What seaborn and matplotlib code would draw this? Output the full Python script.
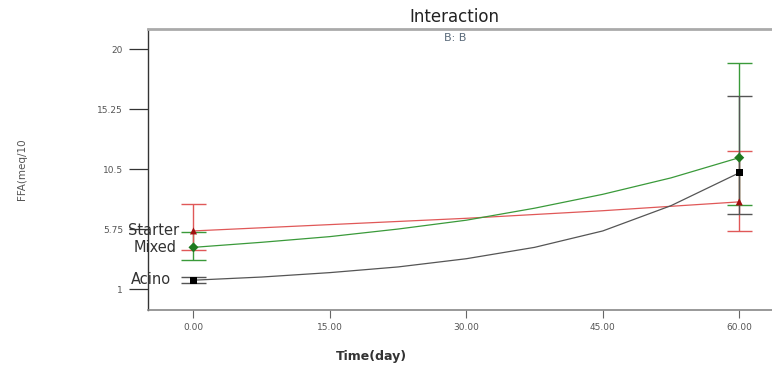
import matplotlib
matplotlib.use("Agg")
import matplotlib.pyplot as plt
import numpy as np
import pandas as pd
import seaborn as sns

# fitted interaction curves
curve_days = [0, 7.5, 15, 22.5, 30, 37.5, 45, 52.5, 60]
acino_curve = [1.7, 1.95, 2.3, 2.75, 3.4, 4.3, 5.6, 7.6, 10.2]
mixed_curve = [4.3, 4.7, 5.15, 5.75, 6.45, 7.4, 8.5, 9.8, 11.4]
starter_curve = [5.6, 5.85, 6.1, 6.35, 6.6, 6.9, 7.2, 7.55, 7.9]

# design points with LSD bars
point_days = [0, 60]
acino_pts = [1.7, 10.2]
acino_lo = [1.45, 6.94]
acino_hi = [1.95, 16.3]
mixed_pts = [4.3, 11.4]
mixed_lo = [3.3, 7.65]
mixed_hi = [5.5, 18.87]
starter_pts = [5.6, 7.9]
starter_lo = [4.1, 5.6]
starter_hi = [7.73, 11.95]

groups = ["Starter", "Mixed", "Acino"]
colors = {"Starter": "#e05858", "Mixed": "#3a9a3a", "Acino": "#555555"}
marker_colors = {"Starter": "#a01010", "Mixed": "#1f7a1f", "Acino": "black"}
markers = {"Starter": "^", "Mixed": "D", "Acino": "s"}

xticks = [0, 15, 30, 45, 60]
yticks = [1, 5.75, 10.5, 15.25, 20]
ytick_labels = ["1", "5.75", "10.5", "15.25", "20"]

curves = pd.DataFrame({
    "day": curve_days * 3,
    "FFA": starter_curve + mixed_curve + acino_curve,
    "group": ["Starter"] * 9 + ["Mixed"] * 9 + ["Acino"] * 9,
})
points = {
    "Starter": (starter_pts, starter_lo, starter_hi),
    "Mixed": (mixed_pts, mixed_lo, mixed_hi),
    "Acino": (acino_pts, acino_lo, acino_hi),
}

sns.set_style("white")
fig = plt.figure(figsize=(7.72, 3.68), dpi=100)
ax = fig.add_axes([0.1917, 0.1576, 0.8083, 0.7634])

sns.lineplot(data=curves, x="day", y="FFA", hue="group", palette=colors,
             linewidth=0.9, legend=False, ax=ax)

for g in ["Mixed", "Starter", "Acino"]:
    pts, lo, hi = points[g]
    pts = np.array(pts)
    yerr = [pts - np.array(lo), np.array(hi) - pts]
    ax.errorbar(point_days, pts, yerr=yerr, fmt="none", ecolor=colors[g],
                elinewidth=1.0, capsize=9, capthick=1.0, zorder=3)
    df = pd.DataFrame({"day": point_days, "FFA": pts})
    sns.scatterplot(data=df, x="day", y="FFA", marker=markers[g],
                    color=marker_colors[g], s=26, edgecolor="none", ax=ax, zorder=4)

# group labels near the day-0 points
label_y = {"Starter": 5.6, "Mixed": 4.25, "Acino": 1.75}
label_x = {"Starter": -7.2, "Mixed": -6.6, "Acino": -6.9}
for g in groups:
    ax.text(label_x[g], label_y[g], g, fontsize=10.5, color="#333333",
            va="center", ha="left", clip_on=False, zorder=5)

ax.set_xlim(-5, 63.6)
ax.set_ylim(-0.66, 21.58)
ax.set_xticks(xticks)
ax.set_xticklabels([f"{t:.2f}" for t in xticks])
ax.set_yticks(yticks)
ax.set_yticklabels(ytick_labels)
ax.tick_params(axis="x", direction="out", length=6, width=0.8, color="#666666",
               labelsize=6.5, labelcolor="#555555", pad=3, bottom=True)
ax.tick_params(axis="y", direction="out", length=14, width=0.9, color="#333333",
               labelsize=6.5, labelcolor="#555555", pad=4, left=True)

ax.spines["right"].set_visible(False)
ax.spines["top"].set_color("#aaaaaa")
ax.spines["top"].set_linewidth(2.0)
ax.spines["bottom"].set_color("#888888")
ax.spines["bottom"].set_linewidth(1.2)
ax.spines["left"].set_color("#333333")
ax.spines["left"].set_linewidth(1.0)

ax.set_xlabel("")
ax.set_ylabel("")
fig.text(0.589, 0.955, "Interaction", fontsize=12, color="#222222",
         ha="center", va="center")
fig.text(0.589, 0.898, "B: B", fontsize=8, color="#5a6a7a",
         ha="center", va="center")
fig.text(0.029, 0.54, "FFA(meq/10", fontsize=7.5, color="#555555",
         rotation=90, ha="center", va="center")
fig.text(0.481, 0.03, "Time(day)", fontsize=9, color="#333333",
         fontweight="bold", ha="center", va="center")

fig.savefig("out.png", dpi=100)
